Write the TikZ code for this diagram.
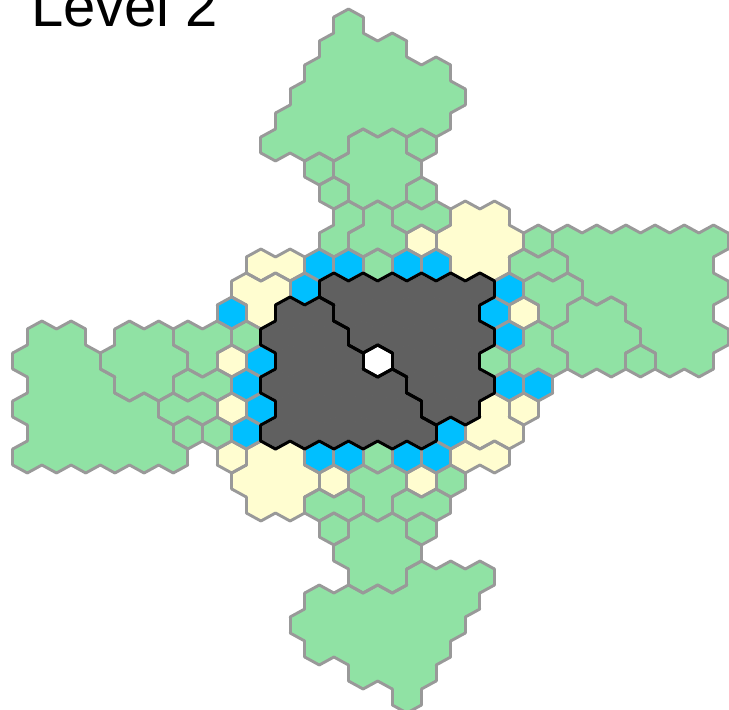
\documentclass[tikz,border=0pt]{standalone}
\usepackage{fontspec}
\setmainfont{Liberation Sans}
\definecolor{hexGreen}{HTML}{90E2A4}
\definecolor{hexCream}{HTML}{FFFDD0}
\definecolor{hexBlue}{HTML}{00BFFF}
\definecolor{hexDark}{HTML}{606060}
\definecolor{hexGrey}{HTML}{999999}
\tikzset{
  hexline/.style={hexGrey, line width=2.9pt, line cap=round},
  darkline/.style={black, line width=3pt, line cap=round},
  title/.style={font=\fontsize{58}{58}\selectfont, anchor=base west, inner sep=0pt}
}
% each cell is q/r: x = 377.7+14.6q, y = 361+24r
\newcommand{\cellshift}{shift={({377.7+14.6*\hq},{361+24*\hr})}}
\newcommand{\markcell}[2]{\expandafter\xdef\csname hx:\hq:\hr\endcsname{#1}}
\newcommand{\fillcell}[2]{%
  \edef\cellopts{\cellshift}%
  \expandafter\path\expandafter[\cellopts, fill=#2, draw=#2, line width=1pt]
    (0,-16) -- (14.6,-8) -- (14.6,8) -- (0,16) -- (-14.6,8) -- (-14.6,-8) -- cycle;}
\newcommand{\edgecell}[2]{%
  \edef\selfid{#1}%
  \edef\cellopts{\cellshift}%
  \foreach \dq/\dr/\ax/\ay/\bx/\by in {2/0/14.6/-8/14.6/8, 1/1/14.6/8/0/16, -1/1/0/16/-14.6/8,
      -2/0/-14.6/8/-14.6/-8, -1/-1/-14.6/-8/0/-16, 1/-1/0/-16/14.6/-8}{%
    \edef\nbid{\csname hx:\the\numexpr\hq+\dq\relax:\the\numexpr\hr+\dr\relax\endcsname}%
    \ifx\nbid\selfid\else
      \expandafter\draw\expandafter[\cellopts, hexedge] (\ax,\ay) -- (\bx,\by);
    \fi}}
\newcommand{\hexregion}[3]{\foreach \hq/\hr in {#3}{\hexaction{#1}{#2}}}
\newcommand{\hexsingles}[2]{\foreach \hq/\hr in {#2}{\hexaction{\hq:\hr}{#1}}}
\newcommand{\lightregions}{%
  % north arm
  \hexregion{ta}{hexGreen}{-2/-14, -3/-13,-1/-13,1/-13, -4/-12,-2/-12,0/-12,2/-12,4/-12,
    -5/-11,-3/-11,-1/-11,1/-11,3/-11,5/-11, -6/-10,-4/-10,-2/-10,0/-10,2/-10,4/-10,
    -7/-9,-5/-9,-3/-9}%
  \hexregion{tb}{hexGreen}{-1/-9,1/-9, -2/-8,0/-8,2/-8, -1/-7,1/-7}%
  \hexregion{tc}{hexGreen}{-2/-6,-3/-5}%
  \hexregion{td}{hexGreen}{0/-6,-1/-5,1/-5}%
  \hexregion{te}{hexGreen}{2/-6,4/-6}%
  % east arm
  \hexregion{ra}{hexGreen}{13/-5,15/-5,17/-5,19/-5,21/-5,23/-5, 14/-4,16/-4,18/-4,20/-4,22/-4,
    15/-3,17/-3,19/-3,21/-3,23/-3, 18/-2,20/-2,22/-2, 19/-1,21/-1,23/-1, 20/0,22/0}%
  \hexregion{rb}{hexGreen}{10/-4,12/-4}%
  \hexregion{rc}{hexGreen}{11/-3,13/-3,12/-2}%
  \hexregion{rd}{hexGreen}{14/-2,16/-2, 13/-1,15/-1,17/-1, 14/0,16/0}%
  \hexregion{re}{hexGreen}{11/-1,10/0,12/0}%
  % west arm
  \hexregion{la}{hexGreen}{-23/-1,-21/-1, -24/0,-22/0,-20/0, -23/1,-21/1,-19/1,
    -24/2,-22/2,-20/2,-18/2,-16/2, -23/3,-21/3,-19/3,-17/3,-15/3,
    -24/4,-22/4,-20/4,-18/4,-16/4,-14/4}%
  \hexregion{lb}{hexGreen}{-17/-1,-15/-1, -18/0,-16/0,-14/0, -17/1,-15/1}%
  \hexregion{lc}{hexGreen}{-13/-1,-11/-1,-12/0}%
  \hexregion{ld}{hexGreen}{-13/1,-11/1}%
  \hexregion{le}{hexGreen}{-14/2,-12/2}%
  % south arm
  \hexregion{ba}{hexGreen}{-1/5,1/5,0/6}%
  \hexregion{bb}{hexGreen}{-4/6,-2/6}%
  \hexregion{bc}{hexGreen}{2/6,4/6}%
  \hexregion{bd}{hexGreen}{-1/7,1/7, -2/8,0/8,2/8, -1/9,1/9}%
  \hexregion{be}{hexGreen}{3/9,5/9,7/9, -4/10,-2/10,0/10,2/10,4/10,6/10,
    -5/11,-3/11,-1/11,1/11,3/11,5/11, -4/12,-2/12,0/12,2/12,4/12, -1/13,1/13,3/13, 2/14}%
  \hexsingles{hexGreen}{3/-9,-4/-8,-3/-7,3/-7,0/-4,11/-5,18/0,8/0,-13/3,-11/3,-9/-1,0/4,5/5,-3/7,3/7}%
  % cream land
  \hexregion{ya}{hexCream}{6/-6,8/-6, 5/-5,7/-5,9/-5, 6/-4,8/-4}%
  \hexregion{yb}{hexCream}{-8/-4,-6/-4}%
  \hexregion{yc}{hexCream}{-9/-3,-7/-3,-8/-2}%
  \hexregion{yd}{hexCream}{8/2,7/3,9/3}%
  \hexregion{ye}{hexCream}{6/4,8/4}%
  \hexregion{yf}{hexCream}{-8/4,-6/4, -9/5,-7/5,-5/5, -8/6,-6/6}%
  \hexsingles{hexCream}{3/-5,10/-2,10/2,3/5,-3/5,-10/0,-10/2,-10/4}%
  \hexsingles{hexBlue}{-4/-4,-2/-4,2/-4,4/-4,-5/-3,9/-3,-10/-2,8/-2,9/-1,-8/0,-9/1,9/1,11/1,
    -8/2,-9/3,5/3,-4/4,-2/4,2/4,4/4}}
\newcommand{\darkregions}{%
  \hexregion{da}{hexDark}{-3/-3,-1/-3,1/-3,3/-3,5/-3,7/-3, -2/-2,0/-2,2/-2,4/-2,6/-2,
    -1/-1,1/-1,3/-1,5/-1,7/-1, 2/0,4/0,6/0, 3/1,5/1,7/1, 4/2,6/2}%
  \hexregion{db}{hexDark}{-6/-2,-4/-2, -7/-1,-5/-1,-3/-1, -6/0,-4/0,-2/0,
    -7/1,-5/1,-3/1,-1/1,1/1, -6/2,-4/2,-2/2,0/2,2/2, -7/3,-5/3,-3/3,-1/3,1/3,3/3}%
  \hexsingles{white}{0/0}}

\begin{document}
\begin{tikzpicture}[x=1pt, y=-1pt]
  \useasboundingbox (0,0) rectangle (729,710);
  \clip (0,0) rectangle (729,710);
  \let\hexaction\markcell \lightregions \darkregions
  \let\hexaction\fillcell \lightregions \darkregions
  \let\hexaction\edgecell
  \begin{scope}[hexedge/.style={hexline}]
    \lightregions
  \end{scope}
  \begin{scope}[hexedge/.style={darkline}]
    \darkregions
  \end{scope}
  \node[title] (levelname) at (31,26) {Level 2};
\end{tikzpicture}
\end{document}
